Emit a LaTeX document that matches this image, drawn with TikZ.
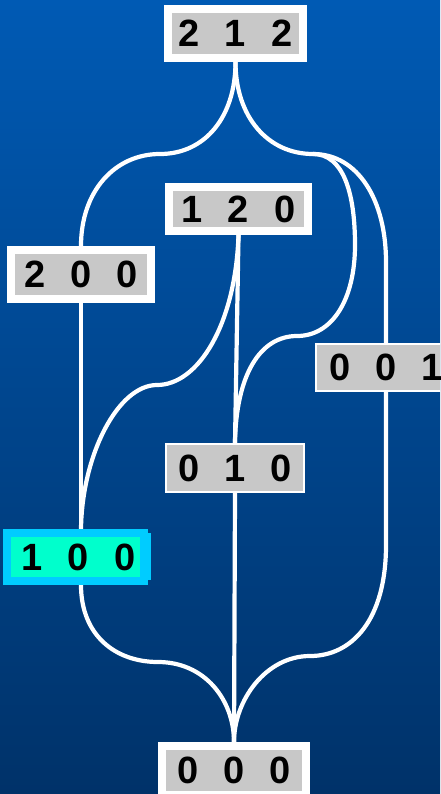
\documentclass[tikz,border=0pt]{standalone}
\usepackage{fontspec}
\setmainfont{Liberation Sans}
\usetikzlibrary{calc}
\definecolor{boxgrey}{RGB}{200,200,200}
\definecolor{bgtop}{RGB}{0,90,180}
\definecolor{bgbot}{RGB}{0,50,105}
\definecolor{cyanedge}{RGB}{0,204,255}
\definecolor{aquafill}{RGB}{0,255,204}
\newcommand{\mydigits}[3]{#1\hspace{25pt}#2\hspace{25pt}#3}
\pgfdeclarelayer{bglayer}
\pgfdeclarelayer{linelayer}
\pgfsetlayers{bglayer,linelayer,main}
\tikzset{
  statebox/.style={draw=white, fill=boxgrey, line width=8pt, inner sep=0pt,
    minimum width=138pt, minimum height=48pt,
    font=\fontsize{38}{42}\selectfont\bfseries, text=black},
  thinbox/.style={statebox, line width=2pt},
  hotbox/.style={statebox, draw=cyanedge, fill=aquafill},
  conn/.style={draw=white, line width=4.2pt}
}
\begin{document}
\begin{tikzpicture}[x=1pt,y=-1pt]
\useasboundingbox (0,0) rectangle (440,794);
\clip (0,0) rectangle (440,794);
\begin{pgfonlayer}{bglayer}
  \shade[top color=bgtop, bottom color=bgbot] (0,0) rectangle (440,794);
\end{pgfonlayer}

% nodes
\node[statebox, minimum width=135pt, minimum height=49pt] (n212) at (235.5,33.5) {\mydigits{2}{1}{2}};
\node[statebox, minimum width=139pt, minimum height=44pt] (n120) at (238.5,209) {\mydigits{1}{2}{0}};
\node[statebox, minimum width=140pt, minimum height=49pt] (n200) at (81,274.5) {\mydigits{2}{0}{0}};
\node[thinbox, minimum width=140pt, minimum height=47pt] (n001) at (386,367.5) {\mydigits{0}{0}{1}};
\node[thinbox, minimum width=138pt, minimum height=48pt] (n010) at (235,468) {\mydigits{0}{1}{0}};
\fill[cyanedge] (144,533) rectangle (151,580);
\node[hotbox, minimum width=137pt, minimum height=48pt] (n100) at (75.5,557) {\hspace*{6pt}\mydigits{1}{0}{0}};
\node[statebox, minimum width=144pt, minimum height=49pt] (n000) at (234,770.5) {\mydigits{0}{0}{0}};

% waypoints
\coordinate (cL1) at (160,154);
\coordinate (cR1) at (313,154);
\coordinate (cR2) at (297,336);
\coordinate (cL2) at (157,385);
\coordinate (cB1) at (158,662);
\coordinate (cB2) at (310,656);

\begin{pgfonlayer}{linelayer}
  % from 212
  \draw[conn] (n212.south) .. controls +(0,55) and (205,154) .. (cL1)
    .. controls (115,154) and ($(n200.north)+(0,-55)$) .. (n200.north);
  \draw[conn] (n212.south) .. controls +(0,55) and (268,154) .. (cR1);
  \draw[conn] (cR1) .. controls (358,154) and (386,200) .. (386,262) -- (n001.north);
  \draw[conn] (cR1) .. controls (343,154) and (355,192) .. (355,245)
    .. controls (355,300) and (332,336) .. (cR2)
    .. controls (260,336) and (236,375) .. (n010.north);
  % from 120
  \draw[conn] (n120.south) -- (n010.north);
  \draw[conn] (n120.south) .. controls +(-3,90) and (198,385) .. (cL2)
    .. controls (118,385) and (82,455) .. (n200.south |- n100.north);
  % from 200
  \draw[conn] (n200.south) -- (n200.south |- n100.north);
  % to 000
  \draw[conn] (n200.south |- n100.south) .. controls +(0,50) and (115,662) .. (cB1)
    .. controls (205,662) and ($(n000.north)+(0,-42)$) .. (n000.north);
  \draw[conn] (n010.south) -- (n000.north);
  \draw[conn] (n001.south) -- (386,545) .. controls (386,620) and (352,656) .. (cB2)
    .. controls (266,656) and ($(n000.north)+(0,-42)$) .. (n000.north);
\end{pgfonlayer}
\end{tikzpicture}
\end{document}
